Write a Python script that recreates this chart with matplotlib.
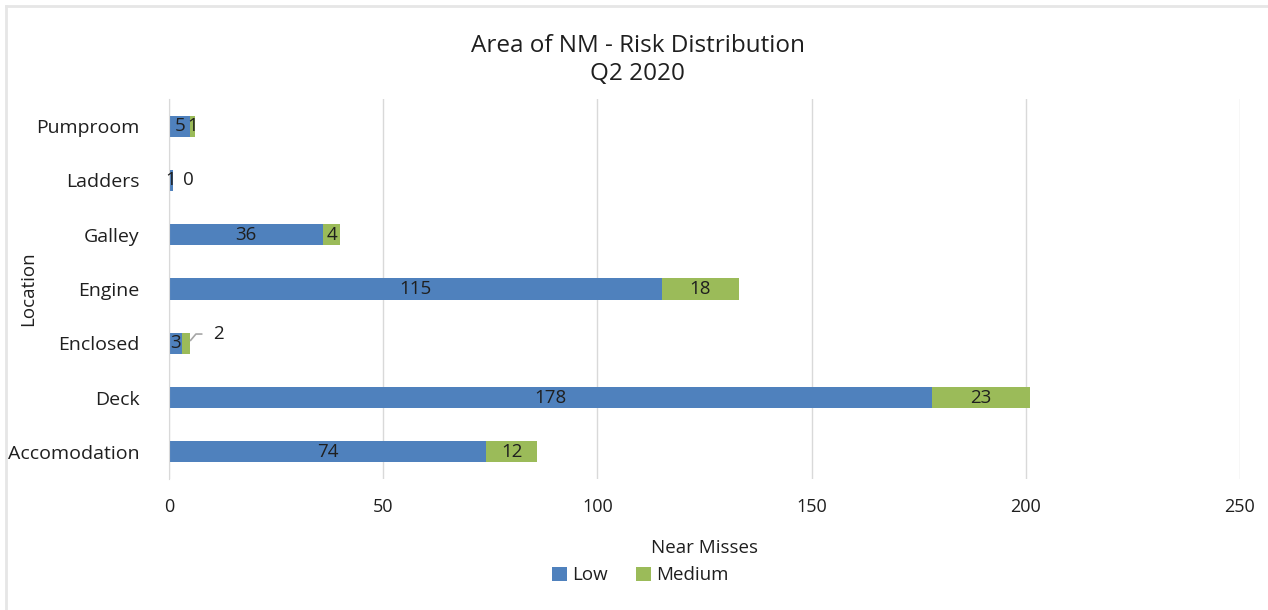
import matplotlib.pyplot as plt
from matplotlib.lines import Line2D

# Near-miss counts per location, split by risk level
locations = ['Accomodation', 'Deck', 'Enclosed', 'Engine', 'Galley', 'Ladders', 'Pumproom']
low = [74, 178, 3, 115, 36, 1, 5]
medium = [12, 23, 2, 18, 4, 0, 1]

blue = '#4f81bd'
green = '#9bbb59'
txt = '#1f1f1f'

plt.rcParams['font.family'] = ['Open Sans', 'DejaVu Sans']

fig = plt.figure(figsize=(12.68, 6.10), dpi=100)
ax = fig.add_axes([0.1333, 0.2148, 0.8446, 0.6229])

y = range(len(locations))
b1 = ax.barh(y, low, height=0.39, color=blue, label='Low')
b2 = ax.barh(y, medium, left=low, height=0.39, color=green, label='Medium')

ax.set_xlim(0, 250)
ax.set_ylim(-0.5, len(locations) - 0.5)
ax.set_xticks(range(0, 251, 50))
ax.set_yticks(list(y))
ax.set_yticklabels(locations)
ax.grid(axis='x', color='#d9d9d9', linewidth=1)
ax.set_axisbelow(True)
for s in ['top', 'right', 'bottom']:
    ax.spines[s].set_visible(False)
ax.spines['left'].set_color('#d9d9d9')
ax.tick_params(length=0, labelsize=13, colors=txt)
ax.tick_params(axis='y', labelsize=14, pad=21)
ax.tick_params(axis='x', pad=14)

# segment labels, small ones nudged off the bar
for i, (lo, me) in enumerate(zip(low, medium)):
    ax.text(lo / 2, i, str(lo), ha='center', va='center', fontsize=13.5, color=txt)
    if me == 0:
        ax.text(lo + 3.5, i, str(me), ha='center', va='center', fontsize=13.5, color=txt)
    elif me <= 2 and lo <= 3:
        ax.annotate(str(me), xy=(lo + me, i + 0.05), xytext=(lo + 8.5, i + 0.17),
                    ha='center', va='center', fontsize=13.5, color=txt,
                    arrowprops=dict(arrowstyle='-', color='#a6a6a6', lw=1.2,
                                    connectionstyle='angle,angleA=0,angleB=50,rad=0',
                                    shrinkA=6, shrinkB=0))
    else:
        ax.text(lo + me / 2, i, str(me), ha='center', va='center', fontsize=13.5, color=txt)

ax.set_xlabel('Near Misses', fontsize=13.5, color=txt, labelpad=16)
ax.set_ylabel('Location', fontsize=13.5, color=txt)
ax.yaxis.set_label_coords(-0.123, 0.5)

fig.text(0.503, 0.902, 'Area of NM - Risk Distribution\nQ2 2020', ha='center', va='center',
         fontsize=17.5, color=txt, linespacing=1.2)

fig.legend(handles=[b1, b2], loc='center', bbox_to_anchor=(0.505, 0.057), ncol=2,
           frameon=False, fontsize=13.5, handlelength=0.8, handleheight=0.8,
           handletextpad=0.3, columnspacing=1.5, labelcolor=txt)

# faint chart-area border
fig.add_artist(Line2D([0.005, 1.0], [0.99, 0.99], color='#e6e6e6', lw=2, transform=fig.transFigure))
fig.add_artist(Line2D([0.005, 0.005], [0.0, 0.99], color='#e6e6e6', lw=2, transform=fig.transFigure))

fig.savefig('out.png', dpi=100)
